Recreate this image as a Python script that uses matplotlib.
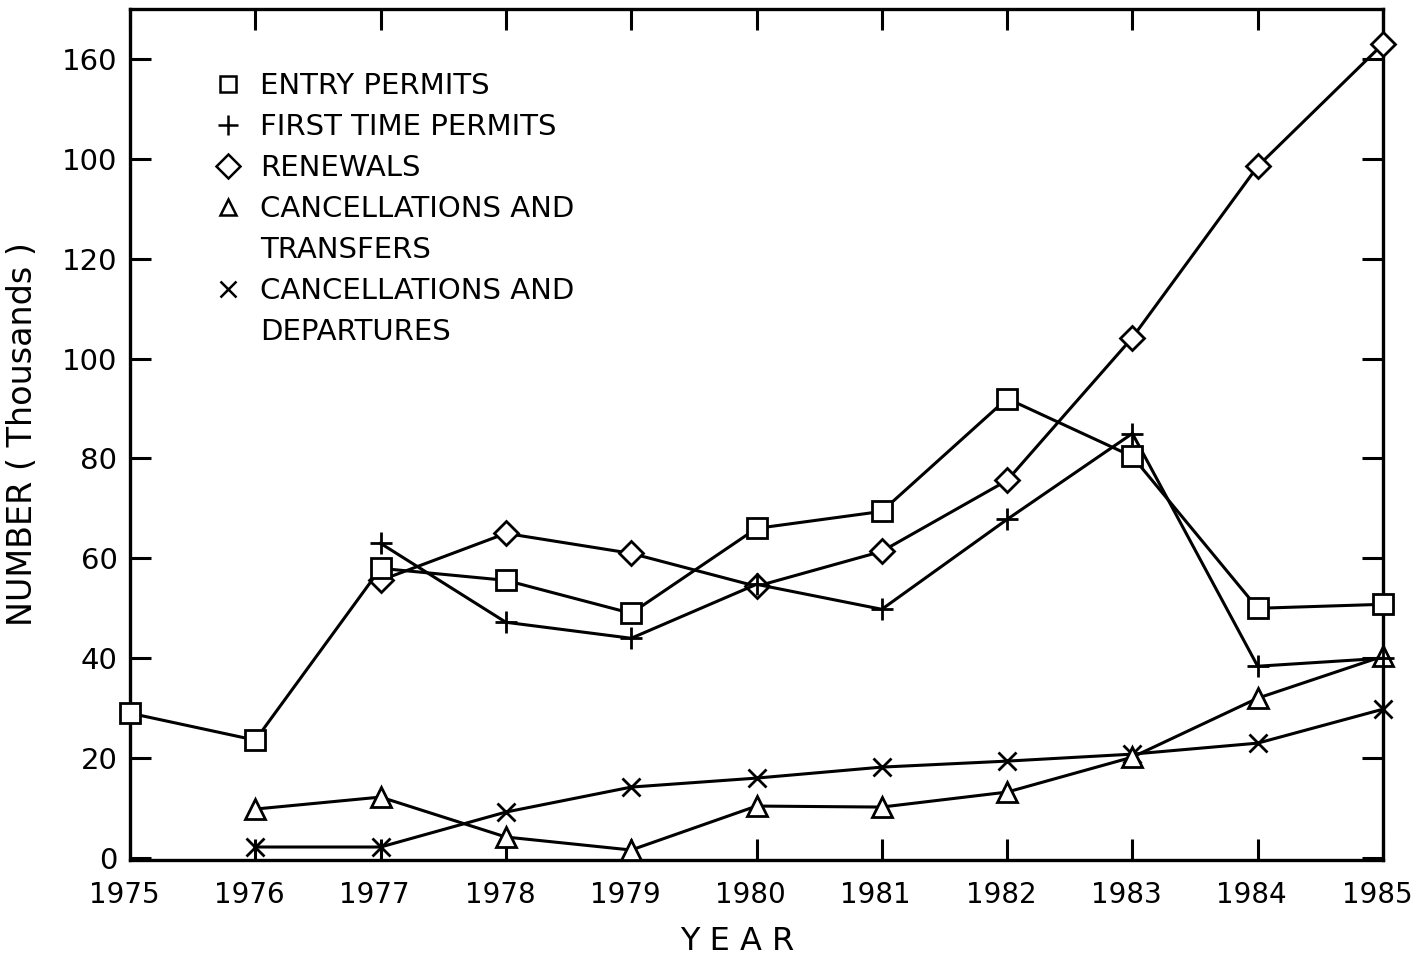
import matplotlib
matplotlib.use("Agg")
import matplotlib.pyplot as plt
from matplotlib.lines import Line2D
import matplotlib.transforms as mtransforms

years = [1975, 1976, 1977, 1978, 1979, 1980, 1981, 1982, 1983, 1984, 1985]

entry_years = [1975, 1976, 1977, 1978, 1979, 1980, 1981, 1982, 1983, 1984, 1985]
entry_permits = [29, 23.6, 58, 55.6, 49, 66, 69.4, 92, 80.4, 50, 50.8]

first_years = [1977, 1978, 1979, 1980, 1981, 1982, 1983, 1984, 1985]
first_time = [63, 47.2, 44, 54.8, 49.8, 67.8, 85, 38.4, 40]

renew_years = [1977, 1978, 1979, 1980, 1981, 1982, 1983, 1984, 1985]
renewals = [55.6, 65, 61, 54.4, 61.4, 75.6, 104.2, 138.5, 163]

ct_years = [1976, 1977, 1978, 1979, 1980, 1981, 1982, 1983, 1984, 1985]
canc_transfers = [9.8, 12.2, 4.2, 1.6, 10.4, 10.2, 13.2, 20.2, 32, 40.4]

cd_years = [1976, 1977, 1978, 1979, 1980, 1981, 1982, 1983, 1984, 1985]
canc_departures = [2.2, 2.2, 9.2, 14.2, 16, 18.2, 19.4, 20.8, 23, 29.8]

ytick_values = [0, 20, 40, 60, 80, 100, 120, 140, 160]
ytick_labels = ["0", "20", "40", "60", "80", "100", "120", "100", "160"]

legend_lines = ["ENTRY PERMITS", "FIRST TIME PERMITS", "RENEWALS",
                "CANCELLATIONS AND", "TRANSFERS",
                "CANCELLATIONS AND", "DEPARTURES"]
legend_markers = ['s', '+', 'D', '^', None, 'x', None]
legend_sizes = [11, 15, 12, 11, 0, 12, 0]

plt.rcParams['font.family'] = ['DejaVu Sans']

fig = plt.figure(figsize=(14.16, 9.57), dpi=100)
ax = fig.add_axes([130/1416, 97/957, (1383-130)/1416, (860-9)/957])

lw = 2.2
mew = 2.0
common = dict(color='black', lw=lw, mfc='white', mec='black', mew=mew, clip_on=False)

ax.plot(cd_years, canc_departures, marker='x', ms=13, zorder=3, **common)
ax.plot(ct_years, canc_transfers, marker='^', ms=14, zorder=3, **common)
ax.plot(first_years, first_time, marker='+', ms=16, zorder=4, **common)
ax.plot(renew_years, renewals, marker='D', ms=12, zorder=3, **common)
ax.plot(entry_years, entry_permits, marker='s', ms=14, zorder=5, **common)

ax.set_xlim(1975, 1985)
ax.set_ylim(-0.4, 170)
ax.set_xticks(years)
ax.set_xticklabels([str(y) for y in years], fontsize=20)
ax.set_yticks(ytick_values)
ax.set_yticklabels(ytick_labels, fontsize=21)

ax.tick_params(direction='in', top=True, right=True, length=15, width=2.2)
ax.tick_params(axis='x', pad=15)
ax.tick_params(axis='y', pad=9)
for s in ax.spines.values():
    s.set_linewidth(2.4)

shift = mtransforms.ScaledTranslation(-6/100, 0, fig.dpi_scale_trans)
for lab in ax.get_xticklabels():
    lab.set_transform(lab.get_transform() + shift)

ax.set_xlabel("Y E A R", fontsize=23)
ax.xaxis.set_label_coords(0.485, -0.077)
ax.set_ylabel("NUMBER ( Thousands )", fontsize=24)
ax.yaxis.set_label_coords(-0.073, 0.5)

handles = []
for m, s in zip(legend_markers, legend_sizes):
    if m is None:
        handles.append(Line2D([], [], ls='none', marker='None'))
    else:
        handles.append(Line2D([], [], ls='none', marker=m, ms=s, mfc='white',
                              mec='black', mew=1.8))
leg = ax.legend(handles, legend_lines, loc='upper left', bbox_to_anchor=(0.0575, 0.940),
                frameon=False, fontsize=21, handlelength=1.0, handletextpad=0.6,
                labelspacing=0.45, borderaxespad=0, borderpad=0.4)

fig.savefig("out.png", dpi=100)
